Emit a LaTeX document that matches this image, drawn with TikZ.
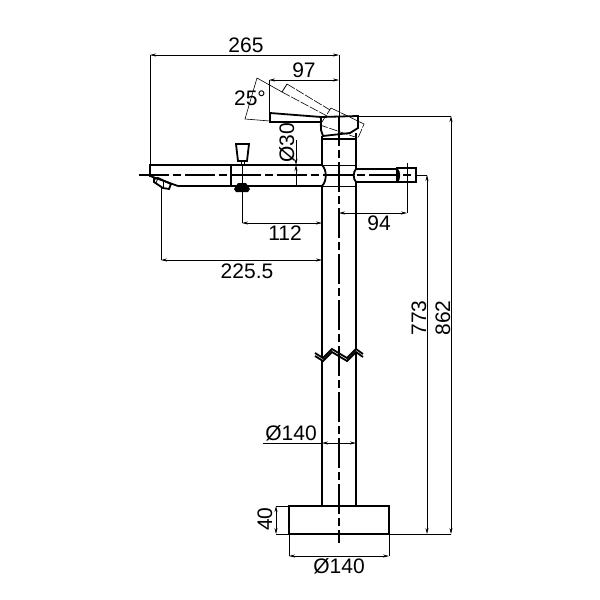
\documentclass[tikz,border=0pt]{standalone}
\usepackage{fontspec}
\setmainfont{Liberation Sans}
\usetikzlibrary{arrows.meta}
\begin{document}
\begin{tikzpicture}[x=1pt,y=-1pt,
    part/.style ={draw, line width=1.8pt},
    heavy/.style ={draw, line width=2.6pt},
    thinpart/.style ={draw, line width=0.8pt},
    ghost/.style ={draw, line width=0.6pt, dash pattern=on 9pt off 1.5pt},
    centre/.style ={draw, line width=1.5pt, dash pattern=on 30pt off 4pt on 8pt off 4pt},
    dimline/.style ={draw, line width=0.6pt, {Stealth[length=6pt,width=3pt]}-{Stealth[length=6pt,width=3pt]}},
    dimhalf/.style ={draw, line width=0.6pt, -{Stealth[length=6pt,width=3pt]}},
    extline/.style ={draw, line width=0.6pt},
    dimtext/.style ={font=\fontsize{21}{25}\selectfont, inner sep=0pt}]
   \useasboundingbox[fill=white] (0,0) rectangle (600,600);
   % spout and column
   \draw[part] (322,139) -- (322,165) .. controls (327,170) and (327,181) .. (322,186) -- (322,358);
   \draw[part] (322,361) -- (322,506);
   \draw[part] (356,139) -- (356,169);
   \draw[part] (356,182) -- (356,349);
   \draw[part] (356,352) -- (356,506);
   \draw[part] (322,165) -- (150,165) -- (150,176) -- (178,186) -- (322,186);
   \draw[thinpart] (322,165) -- (356,165);
   \draw[thinpart] (322,186) -- (356,186);
   \draw[part] (231,165) -- (231,186);
   % tail on the right
   \draw[part] (397,169) -- (356,169) .. controls (353,172) and (353,179) .. (356,182) -- (397,182);
   \draw[part] (397,169) .. controls (400,172) and (400,179) .. (397,182);
   \draw[part] (397,168) rectangle (416,182);
   % lever and cap
   \draw[part] (321,117) -- (358,116) -- (358,128) -- (350,133) -- (323,136) -- (321,130) -- cycle;
   \draw[part] (322,136) -- (322,139) -- (356,139) -- (356,133);
   \draw[part] (321,117) -- (270,113) -- (270,122) -- (321,122);
   % lever when tilted
   \draw[ghost] (331,108) -- (364,124) -- (358,138) -- (320,125) -- cycle;
   \draw[ghost] (282,92) -- (327,116);
   \draw[ghost] (287,84) -- (330,110);
   \draw[thinpart] (287,84) -- (282,92);
   % knob on the spout
   \draw[part] (236,144) -- (249,144) -- (247,161) -- (238,161) -- cycle;
   \draw[thinpart] (241,161) -- (241,165);
   \draw[thinpart] (244,161) -- (244,165);
   \draw[ghost] (242,165) -- (242,183);
   \fill (238,183) -- (246,183) -- (250,189) -- (248,192) -- (236,192) -- (234,189) -- cycle;
   % aerator
   \draw[part] (154,179) -- (158,178) -- (171,184) -- (169,189) -- (163,188) -- (154,182) -- cycle;
   \draw[thinpart] (158,178) -- (156,183);
   \draw[thinpart] (163,182) -- (163,188);
   % break
   \draw[part] (315,353) -- (323,358) -- (332,349) -- (347,358) -- (356,349) -- (363,354);
   \draw[part] (315,356) -- (323,361) -- (332,352) -- (347,361) -- (356,352) -- (363,357);
   % base
   \draw[part] (289,506) rectangle (389,534);
   \draw[heavy] (289,506) -- (389,506);
   % centre lines
   \draw[extline] (339,55) -- (339,116);
   \draw[centre] (339,116) -- (339,543);
   \draw[centre] (139,175) -- (416,175);
   \draw[thinpart] (407,163) -- (407,182);
   % dimensions
   \draw[extline] (150,55) -- (150,165);
   \draw[dimline] (150,55) -- (339,55);
   \node[dimtext] (width) at (246,45) {265};
   \draw[extline] (269,80) -- (269,113);
   \draw[dimline] (269,80) -- (339,80);
   \node[dimtext] (reach) at (304,70) {97};
   \draw[extline] (282,92) -- (257,78) -- (245,119) -- (270,121);
   \node[dimtext] (tilt) at (250,98) {25°};
   \draw[dimhalf] (296,140) -- (296,165);
   \draw[dimhalf] (296,186) -- (296,165);
   \node[dimtext, rotate=90] (pipe) at (287,143) {Ø30};
   \draw[extline] (242,192) -- (242,223);
   \draw[dimline] (242,223) -- (322,223);
   \node[dimtext] (knob) at (285,233) {112};
   \draw[extline] (161,188) -- (161,260);
   \draw[dimline] (161,260) -- (322,260);
   \node[dimtext] (outlet) at (247,271) {225.5};
   \draw[extline] (407,182) -- (407,213);
   \draw[dimline] (339,213) -- (407,213);
   \node[dimtext] (tail) at (379,223) {94};
   \draw[extline] (416,175) -- (427,175);
   \draw[dimline] (427,175) -- (427,534);
   \node[dimtext, rotate=90] (lower) at (419,318) {773};
   \draw[extline] (358,116) -- (451,116);
   \draw[dimline] (451,116) -- (451,534);
   \node[dimtext, rotate=90] (total) at (443,318) {862};
   \draw[extline] (389,534) -- (451,534);
   \draw[extline] (263,443) -- (322,443);
   \draw[dimhalf] (339,443) -- (322,443);
   \draw[dimhalf] (339,443) -- (356,443);
   \node[dimtext] (column) at (291,433) {Ø140};
   \draw[extline] (276,506) -- (289,506);
   \draw[extline] (276,534) -- (289,534);
   \draw[dimline] (276,506) -- (276,534);
   \node[dimtext, rotate=90] (height) at (265,519) {40};
   \draw[extline] (289,534) -- (289,556);
   \draw[extline] (389,534) -- (389,556);
   \draw[dimline] (289,556) -- (389,556);
   \node[dimtext] (plate) at (339,566) {Ø140};
 \end{tikzpicture}
\end{document}
